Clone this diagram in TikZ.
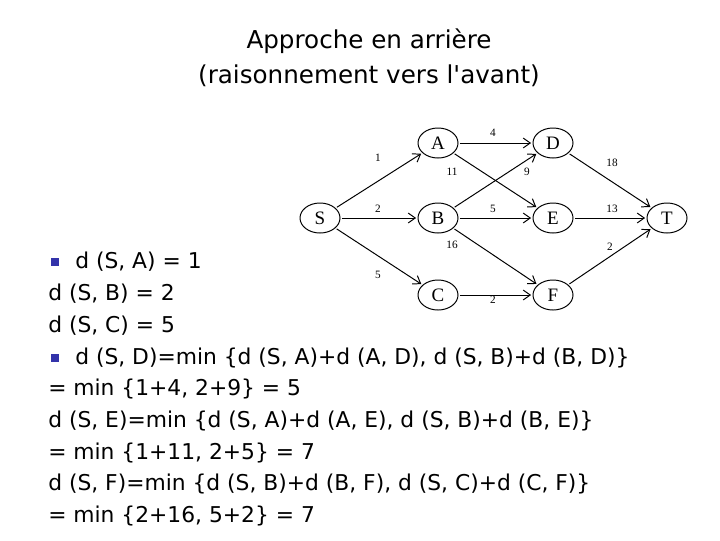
\documentclass[tikz,border=0pt]{standalone}
\usepackage{fontspec}
\setmainfont{DejaVu Sans}
\newfontfamily\graphfont{Liberation Serif}
\usetikzlibrary{arrows.meta}
\usetikzlibrary{shapes.geometric}
\definecolor{bulletblue}{RGB}{51,51,170}

\tikzset{
  vertex/.style={ellipse,draw,line width=0.7pt,minimum width=1cm,minimum height=0.75cm,inner sep=0pt,font=\graphfont\fontsize{13.5}{14}\selectfont},
  arc/.style={-{Straight Barb[length=5pt,width=7pt]},line width=0.7pt,shorten >=1pt,shorten <=1pt},
  weight/.style={font=\graphfont\fontsize{8}{9}\selectfont,inner sep=0pt},
  line/.style={anchor=base west,inner sep=0pt,font=\fontsize{15.5}{18}\selectfont},
  bullet/.style={fill=bulletblue,minimum size=5.5pt,inner sep=0pt}
}

\begin{document}
\begin{tikzpicture}[x=0.025cm,y=-0.025cm]

\useasboundingbox[fill=white] (0,0) rectangle (720,540);

% title
\node[font=\fontsize{17.5}{25}\selectfont,align=center] (title) at (369,58) {Approche en arrière\\(raisonnement vers l\textquotesingle avant)};

% graph
\node[vertex] (S) at (320,218) {S};
\node[vertex] (A) at (438,143) {A};
\node[vertex] (B) at (438,218) {B};
\node[vertex] (C) at (438,295) {C};
\node[vertex] (D) at (553,143) {D};
\node[vertex] (E) at (553,218) {E};
\node[vertex] (F) at (553,295) {F};
\node[vertex] (T) at (667,218) {T};

\draw[arc] (S) -- (A);
\draw[arc] (S) -- (B);
\draw[arc] (S) -- (C);
\draw[arc] (A) -- (D);
\draw[arc] (A) -- (E);
\draw[arc] (B) -- (D);
\draw[arc] (B) -- (E);
\draw[arc] (B) -- (F);
\draw[arc] (C) -- (F);
\draw[arc] (D) -- (T);
\draw[arc] (E) -- (T);
\draw[arc] (F) -- (T);

\node[weight] (wSA) at (378,158) {1};
\node[weight] (wSB) at (378,209) {2};
\node[weight] (wSC) at (378,275) {5};
\node[weight] (wAD) at (493,133) {4};
\node[weight] (wAE) at (452,172) {11};
\node[weight] (wBD) at (527,172) {9};
\node[weight] (wBE) at (493,209) {5};
\node[weight] (wBF) at (452,245) {16};
\node[weight] (wCF) at (493,300) {2};
\node[weight] (wDT) at (612,163) {18};
\node[weight] (wET) at (612,209) {13};
\node[weight] (wFT) at (610,247) {2};

% distances
\node[bullet] (b1) at (55,262) {};
\node[line] (l1) at (75,268) {d (S, A) = 1};
\node[line] (l2) at (48,300) {d (S, B) = 2};
\node[line] (l3) at (48,332) {d (S, C) = 5};
\node[bullet] (b2) at (55,358) {};
\node[line] (l4) at (75,364) {d (S, D)=min \{d (S, A)+d (A, D), d (S, B)+d (B, D)\}};
\node[line] (l5) at (48,395) {= min \{1+4, 2+9\} = 5};
\node[line] (l6) at (48,427) {d (S, E)=min \{d (S, A)+d (A, E), d (S, B)+d (B, E)\}};
\node[line] (l7) at (48,459) {= min \{1+11, 2+5\} = 7};
\node[line] (l8) at (48,490) {d (S, F)=min \{d (S, B)+d (B, F), d (S, C)+d (C, F)\}};
\node[line] (l9) at (48,522) {= min \{2+16, 5+2\} = 7};

\end{tikzpicture}
\end{document}
